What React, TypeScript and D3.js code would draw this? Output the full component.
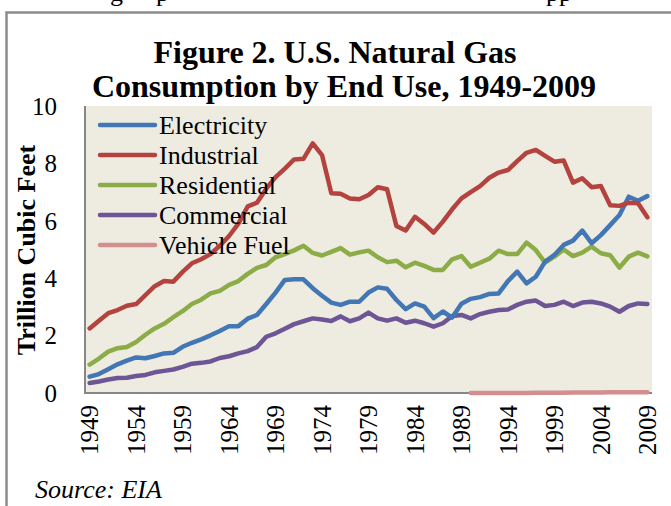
import * as d3 from 'd3';
import React, { useEffect, useRef } from 'react';

const years = d3.range(1949, 2010);

const electricity = [
  0.57, 0.66, 0.83, 1.0, 1.13, 1.24, 1.21, 1.29, 1.38, 1.4,
  1.61, 1.75, 1.87, 2.01, 2.16, 2.33, 2.33, 2.59, 2.72, 3.1,
  3.5, 3.94, 3.96, 3.96, 3.65, 3.39, 3.15, 3.07, 3.18, 3.18,
  3.5, 3.68, 3.63, 3.24, 2.92, 3.12, 3.01, 2.61, 2.84, 2.63,
  3.11, 3.28, 3.34, 3.45, 3.47, 3.9, 4.23, 3.82, 4.05, 4.58,
  4.81, 5.16, 5.31, 5.66, 5.22, 5.5, 5.85, 6.2, 6.84, 6.7,
  6.86
];

const industrial = [
  2.25, 2.52, 2.78, 2.89, 3.04, 3.1, 3.41, 3.72, 3.9, 3.88,
  4.22, 4.52, 4.66, 4.84, 5.13, 5.47, 5.9, 6.5, 6.63, 7.12,
  7.52, 7.82, 8.14, 8.16, 8.7, 8.29, 6.96, 6.94, 6.78, 6.75,
  6.9, 7.17, 7.1, 5.82, 5.66, 6.14, 5.89, 5.59, 5.97, 6.4,
  6.78, 7.0, 7.21, 7.5, 7.68, 7.77, 8.08, 8.37, 8.47, 8.26,
  8.06, 8.1, 7.33, 7.48, 7.17, 7.21, 6.54, 6.52, 6.63, 6.61,
  6.12
];

const residential = [
  0.99, 1.2, 1.44, 1.56, 1.6, 1.78, 2.03, 2.25, 2.41, 2.64,
  2.85, 3.1, 3.25, 3.47, 3.56, 3.77, 3.9, 4.15, 4.36, 4.46,
  4.73, 4.84, 4.97, 5.13, 4.88, 4.79, 4.92, 5.05, 4.82, 4.9,
  4.96, 4.73, 4.56, 4.61, 4.38, 4.54, 4.43, 4.29, 4.29, 4.66,
  4.77, 4.4, 4.54, 4.68, 4.96, 4.84, 4.84, 5.24, 4.98, 4.54,
  4.75, 5.0, 4.77, 4.89, 5.1, 4.87, 4.8, 4.37, 4.75, 4.89,
  4.76
];

const commercial = [
  0.35, 0.4, 0.47, 0.52, 0.53, 0.59, 0.63, 0.72, 0.77, 0.82,
  0.91, 1.02, 1.05, 1.1, 1.22, 1.28, 1.38, 1.46, 1.6, 1.96,
  2.08, 2.24, 2.4, 2.5, 2.6, 2.56, 2.51, 2.67, 2.5, 2.6,
  2.8, 2.6, 2.52, 2.6, 2.45, 2.52, 2.43, 2.31, 2.43, 2.68,
  2.72, 2.6, 2.75, 2.83, 2.89, 2.91, 3.07, 3.18, 3.22, 3.03,
  3.07, 3.18, 3.03, 3.15, 3.18, 3.12, 3.01, 2.83, 3.03, 3.12,
  3.1
];

// vehicle fuel only reported from 1990
const vehicleFuel: (number | null)[] = [
  null, null, null, null, null, null, null, null, null, null,
  null, null, null, null, null, null, null, null, null, null,
  null, null, null, null, null, null, null, null, null, null,
  null, null, null, null, null, null, null, null, null, null,
  null, 0.0001, 0.0004, 0.0005, 0.0007, 0.0013, 0.0027, 0.0033, 0.0052, 0.0079,
  0.0113, 0.0128, 0.015, 0.0153, 0.0186, 0.0205, 0.0228, 0.0237, 0.0247, 0.0259,
  0.0271
];

const seriesNames = ['Electricity', 'Industrial', 'Residential', 'Commercial', 'Vehicle Fuel'];
const seriesColors = ['#4276B4', '#B4433F', '#8BAC47', '#6E5696', '#D38E8E'];
const yTicks = [0, 2, 4, 6, 8, 10];
const xTickYears = d3.range(1949, 2010, 5);
const titleLines = ['Figure 2. U.S. Natural Gas', 'Consumption by End Use, 1949-2009'];

const W = 671;
const H = 506;
const plot = { left: 85, right: 652, top: 106, bottom: 393 };
const serif = '"Liberation Serif", "Times New Roman", serif';

const App: React.FC = () => {
  const svgRef = useRef<SVGSVGElement>(null);

  useEffect(() => {
    const svg = d3.select(svgRef.current).html('');
    const allSeries = [electricity, industrial, residential, commercial, vehicleFuel];

    const x = d3.scalePoint<number>()
      .domain(years)
      .range([plot.left, plot.right])
      .padding(0.5);

    const y = d3.scaleLinear()
      .domain([0, 10])
      .range([plot.bottom, plot.top]);

    // page text cut off above the figure
    svg.append('g')
      .attr('font-family', serif)
      .attr('font-size', 26)
      .selectAll('text')
      .data([{ t: 'g', x: 110 }, { t: 'p', x: 156 }, { t: 'pp', x: 546 }])
      .enter().append('text')
      .attr('x', d => d.x)
      .attr('y', 1)
      .text(d => d.t);

    // frame
    svg.append('path')
      .attr('d', `M6.5,${H} V12.5 H${W}`)
      .attr('fill', 'none')
      .attr('stroke', '#8c8c8c')
      .attr('stroke-width', 2.5);

    // title
    svg.append('g')
      .attr('text-anchor', 'middle')
      .attr('font-family', serif)
      .attr('font-weight', 'bold')
      .attr('font-size', 32)
      .selectAll('text')
      .data(titleLines)
      .enter().append('text')
      .attr('x', (d, i) => (i === 0 ? 335 : 344))
      .attr('y', (d, i) => 63 + i * 34)
      .text(d => d);

    svg.append('rect')
      .attr('x', plot.left)
      .attr('y', plot.top)
      .attr('width', plot.right - plot.left)
      .attr('height', plot.bottom - plot.top)
      .attr('fill', '#EEEBE0');

    svg.append('path')
      .attr('d', `M${plot.left},${plot.top} V${plot.bottom} H${plot.right}`)
      .attr('fill', 'none')
      .attr('stroke', '#878787')
      .attr('stroke-width', 2);

    // y ticks
    svg.append('g')
      .attr('font-family', serif)
      .attr('font-size', 25)
      .attr('text-anchor', 'end')
      .selectAll('text')
      .data(yTicks)
      .enter().append('text')
      .attr('x', 57)
      .attr('y', d => y(d))
      .attr('dy', '0.35em')
      .text(d => d);

    // x ticks, rotated
    svg.append('g')
      .attr('font-family', serif)
      .attr('font-size', 25)
      .attr('text-anchor', 'end')
      .selectAll('text')
      .data(xTickYears)
      .enter().append('text')
      .attr('transform', d => `translate(${x(d)},405) rotate(-90)`)
      .attr('dy', '0.35em')
      .text(d => d);

    svg.append('text')
      .attr('transform', 'translate(35,250) rotate(-90)')
      .attr('text-anchor', 'middle')
      .attr('font-family', serif)
      .attr('font-weight', 'bold')
      .attr('font-size', 26)
      .text('Trillion Cubic Feet');

    svg.append('text')
      .attr('x', 35)
      .attr('y', 498)
      .attr('font-family', serif)
      .attr('font-style', 'italic')
      .attr('font-size', 26)
      .text('Source: EIA');

    const line = d3.line<number | null>()
      .defined(d => d != null)
      .x((d, i) => x(years[i])!)
      .y(d => y(d as number));

    // vehicle fuel first so the others sit on top
    const order = [4, 3, 2, 0, 1];
    svg.append('g')
      .selectAll('path')
      .data(order)
      .enter().append('path')
      .attr('d', k => line(allSeries[k] as (number | null)[]))
      .attr('fill', 'none')
      .attr('stroke', k => seriesColors[k])
      .attr('stroke-width', 4.5)
      .attr('stroke-linejoin', 'round')
      .attr('stroke-linecap', 'round');

    // legend
    const legend = svg.append('g')
      .selectAll('g')
      .data(seriesNames)
      .enter().append('g')
      .attr('transform', (d, i) => `translate(100,${125 + i * 30})`);

    legend.append('line')
      .attr('x1', 0)
      .attr('x2', 55)
      .attr('stroke', (d, i) => seriesColors[i])
      .attr('stroke-width', 4.5)
      .attr('stroke-linecap', 'round');

    legend.append('text')
      .attr('x', 59)
      .attr('dy', '0.35em')
      .attr('font-family', serif)
      .attr('font-size', 26)
      .text(d => d);
  }, []);

  return (
    <svg
      ref={svgRef}
      width={W}
      height={H}
      style={{ position: 'absolute', left: 0, top: 0, background: '#fff' }}
    />
  );
};

export default App;
